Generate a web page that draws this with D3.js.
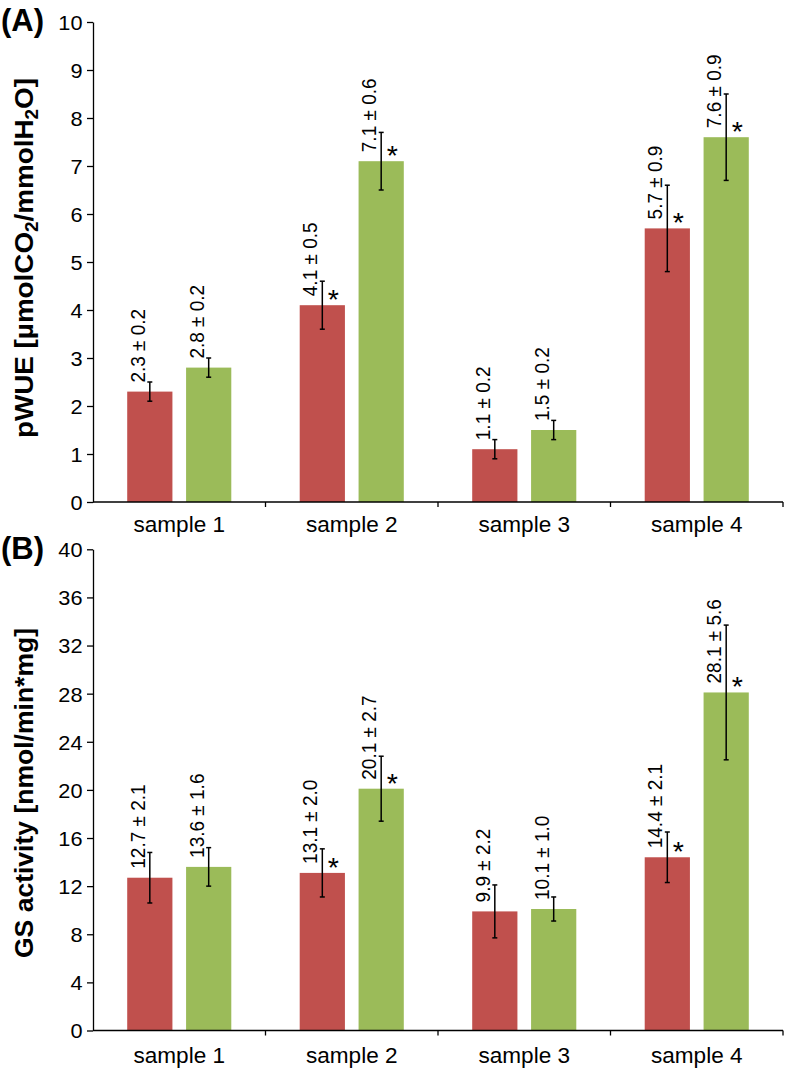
<!DOCTYPE html>
<html>
<head>
<meta charset="utf-8">
<script src="https://cdn.jsdelivr.net/npm/d3@7"></script>
<style>
  html, body { margin: 0; padding: 0; background: #fff; }
  svg text { font-family: "Liberation Sans", Arial, sans-serif; fill: #000; }
</style>
</head>
<body>
<svg id="chart" width="786" height="1073"></svg>
<script>
// ---- data ----
const categories = ["sample 1", "sample 2", "sample 3", "sample 4"];
const seriesKeys = ["red", "green"];

const pwueRed = [2.3, 4.1, 1.1, 5.7];
const pwueRedErr = [0.2, 0.5, 0.2, 0.9];
const pwueRedSig = [false, true, false, true];
const pwueGreen = [2.8, 7.1, 1.5, 7.6];
const pwueGreenErr = [0.2, 0.6, 0.2, 0.9];
const pwueGreenSig = [false, true, false, true];
const pwueTicks = [0, 1, 2, 3, 4, 5, 6, 7, 8, 9, 10];

const gsRed = [12.7, 13.1, 9.9, 14.4];
const gsRedErr = [2.1, 2.0, 2.2, 2.1];
const gsRedSig = [false, true, false, true];
const gsGreen = [13.6, 20.1, 10.1, 28.1];
const gsGreenErr = [1.6, 2.7, 1.0, 5.6];
const gsGreenSig = [false, true, false, true];
const gsTicks = [0, 4, 8, 12, 16, 20, 24, 28, 32, 36, 40];

const colors = { red: "#C0504D", green: "#9BBB59" };
const SX = 1.06; // horizontal text stretch

const svg = d3.select("#chart");

function panel(cfg) {
  const g = svg.append("g");
  const x = d3.scaleBand().domain(categories).range([93, 783]).paddingInner(0).paddingOuter(0);
  const xs = d3.scaleBand().domain(seriesKeys).range([0, x.bandwidth()]).paddingInner(0.232).paddingOuter(0.581);
  const y = d3.scaleLinear().domain([cfg.ticks[0], cfg.ticks[cfg.ticks.length - 1]]).range([cfg.y0, cfg.y1]);

  const rows = [];
  categories.forEach((c, i) => {
    rows.push({ cat: c, key: "red", v: cfg.red[i], e: cfg.redErr[i], sig: cfg.redSig[i] });
    rows.push({ cat: c, key: "green", v: cfg.green[i], e: cfg.greenErr[i], sig: cfg.greenSig[i] });
  });

  // bars
  g.selectAll("rect.bar").data(rows).join("rect")
    .attr("x", d => x(d.cat) + xs(d.key))
    .attr("width", xs.bandwidth())
    .attr("y", d => y(d.v))
    .attr("height", d => y(0) - y(d.v))
    .attr("fill", d => colors[d.key]);

  const cx = d => x(d.cat) + xs(d.key) + xs.bandwidth() / 2;

  // error bars
  const eb = g.selectAll("g.err").data(rows).join("g").attr("stroke", "#000").attr("stroke-width", 1.5);
  eb.append("line").attr("x1", cx).attr("x2", cx).attr("y1", d => y(d.v + d.e)).attr("y2", d => y(d.v - d.e));
  eb.append("line").attr("x1", d => cx(d) - 2.5).attr("x2", d => cx(d) + 2.5).attr("y1", d => y(d.v + d.e)).attr("y2", d => y(d.v + d.e));
  eb.append("line").attr("x1", d => cx(d) - 2.5).attr("x2", d => cx(d) + 2.5).attr("y1", d => y(d.v - d.e)).attr("y2", d => y(d.v - d.e));

  // value labels
  g.selectAll("text.val").data(rows).join("text")
    .attr("font-size", 19)
    .attr("transform", d => `translate(${cx(d) - 5},${y(d.v) - 9}) scale(1.08,1) rotate(-90)`)
    .text(d => `${d.v.toFixed(1)} ± ${d.e.toFixed(1)}`);

  // asterisks
  g.selectAll("text.sig").data(rows.filter(d => d.sig)).join("text")
    .attr("font-size", 27)
    .attr("text-anchor", "middle")
    .attr("transform", d => `translate(${cx(d) + 11},${y(d.v) + 4}) scale(${SX},1)`)
    .text("*");

  // y axis
  const ya = g.append("g").attr("transform", "translate(93,0)")
    .call(d3.axisLeft(y).tickValues(cfg.ticks).tickSize(6).tickSizeOuter(0).tickPadding(4));
  ya.select(".domain").attr("stroke", "#000").attr("stroke-width", 1.3);
  ya.selectAll(".tick line").attr("stroke", "#000").attr("stroke-width", 1.3);
  ya.selectAll(".tick text").attr("font-size", 20.5).attr("font-family", "Liberation Sans, Arial, sans-serif")
    .attr("fill", "#000").attr("dy", "0.36em").attr("x", null)
    .attr("transform", `translate(-10.5,0) scale(${SX},1)`);

  // x axis
  const xa = g.append("g").attr("transform", `translate(0,${cfg.y0})`);
  xa.append("line").attr("x1", 93).attr("x2", 783).attr("y1", 0).attr("y2", 0).attr("stroke", "#000").attr("stroke-width", 1.3);
  const bounds = categories.map(c => x(c) + x.bandwidth());
  xa.selectAll("line.tk").data(bounds).join("line")
    .attr("x1", d => d).attr("x2", d => d).attr("y1", 0).attr("y2", 5)
    .attr("stroke", "#000").attr("stroke-width", 1.3);
  xa.selectAll("text.cat").data(categories).join("text")
    .attr("font-size", 21.5).attr("text-anchor", "middle")
    .attr("transform", d => `translate(${x(d) + x.bandwidth() / 2},${cfg.labelDy}) scale(1.05,1)`)
    .text(d => d);

  // panel letter
  g.append("text").attr("font-size", 31).attr("font-weight", "bold")
    .attr("x", 1).attr("y", cfg.letterY).text(cfg.letter);

  // y title
  const t = g.append("text").attr("font-size", 26.5).attr("font-weight", "bold").attr("text-anchor", "middle")
    .attr("transform", `translate(33,${cfg.titleY}) rotate(-90)`);
  cfg.title.forEach(p => {
    const ts = t.append("tspan").text(p.t);
    if (p.sub) ts.attr("font-size", 18).attr("baseline-shift", "-25%");
  });
  t.attr("textLength", cfg.titleLen).attr("lengthAdjust", "spacingAndGlyphs");
}

panel({
  y0: 502, y1: 22, ticks: pwueTicks,
  red: pwueRed, redErr: pwueRedErr, redSig: pwueRedSig,
  green: pwueGreen, greenErr: pwueGreenErr, greenSig: pwueGreenSig,
  labelDy: 30, letter: "(A)", letterY: 31, titleY: 258, titleLen: 360,
  title: [{ t: "pWUE [µmolCO" }, { t: "2", sub: true }, { t: "/mmolH" }, { t: "2", sub: true }, { t: "O]" }]
});

panel({
  y0: 1030.5, y1: 549.3, ticks: gsTicks,
  red: gsRed, redErr: gsRedErr, redSig: gsRedSig,
  green: gsGreen, greenErr: gsGreenErr, greenSig: gsGreenSig,
  labelDy: 32.5, letter: "(B)", letterY: 559, titleY: 793, titleLen: 330,
  title: [{ t: "GS activity [nmol/min*mg]" }]
});
</script>
</body>
</html>
